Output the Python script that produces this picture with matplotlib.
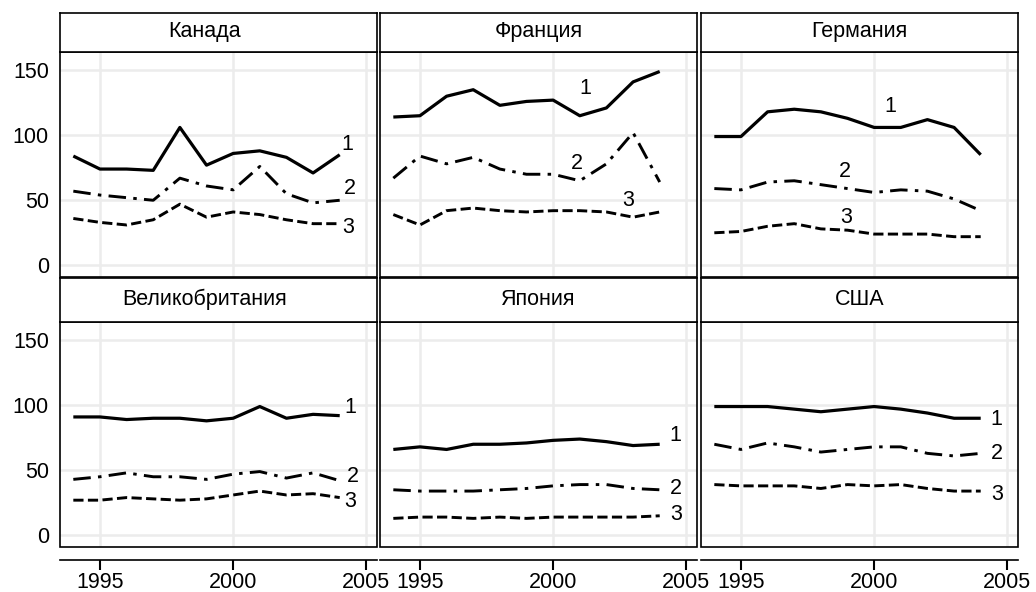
"""
Small-multiples line chart: three indicators by country, 1994-2004.
"""
import numpy as np
import matplotlib
matplotlib.use("Agg")
import matplotlib.pyplot as plt
from matplotlib.patches import Rectangle

plt.rcParams["font.family"] = ["Liberation Sans", "DejaVu Sans"]

years = list(range(1994, 2005))
countries = ["Канада", "Франция", "Германия", "Великобритания", "Япония", "США"]

canada_1 = [84, 74, 74, 73, 106, 77, 86, 88, 83, 71, 85]
canada_2 = [57, 54, 52, 50, 67, 61, 58, 76, 55, 48, 50]
canada_3 = [36, 33, 31, 35, 47, 37, 41, 39, 35, 32, 32]

france_1 = [114, 115, 130, 135, 123, 126, 127, 115, 121, 141, 149]
france_2 = [67, 84, 78, 83, 74, 70, 70, 65, 78, 102, 64]
france_3 = [39, 31, 42, 44, 42, 41, 42, 42, 41, 37, 41]

germany_1 = [99, 99, 118, 120, 118, 113, 106, 106, 112, 106, 85]
germany_2 = [59, 58, 64, 65, 62, 59, 56, 58, 57, 51, 42]
germany_3 = [25, 26, 30, 32, 28, 27, 24, 24, 24, 22, 22]

uk_1 = [91, 91, 89, 90, 90, 88, 90, 99, 90, 93, 92]
uk_2 = [43, 45, 48, 45, 45, 43, 47, 49, 44, 48, 42]
uk_3 = [27, 27, 29, 28, 27, 28, 31, 34, 31, 32, 29]

japan_1 = [66, 68, 66, 70, 70, 71, 73, 74, 72, 69, 70]
japan_2 = [35, 34, 34, 34, 35, 36, 38, 39, 39, 36, 35]
japan_3 = [13, 14, 14, 13, 14, 13, 14, 14, 14, 14, 15]

usa_1 = [99, 99, 99, 97, 95, 97, 99, 97, 94, 90, 90]
usa_2 = [70, 66, 71, 68, 64, 66, 68, 68, 63, 61, 63]
usa_3 = [39, 38, 38, 38, 36, 39, 38, 39, 36, 34, 34]

series_by_country = [
    (canada_1, canada_2, canada_3),
    (france_1, france_2, france_3),
    (germany_1, germany_2, germany_3),
    (uk_1, uk_2, uk_3),
    (japan_1, japan_2, japan_3),
    (usa_1, usa_2, usa_3),
]
series_names = ["1", "2", "3"]

# where the "1", "2", "3" labels sit (year, value)
label_pos = [
    [(2004.3, 93), (2004.4, 59), (2004.3, 29)],
    [(2001.2, 136), (2000.9, 78), (2002.8, 50)],
    [(2000.6, 122), (1998.9, 72), (1998.95, 37)],
    [(2004.4, 98), (2004.5, 45), (2004.4, 26)],
    [(2004.6, 77), (2004.6, 36), (2004.6, 16)],
    [(2004.6, 89), (2004.6, 63), (2004.6, 31)],
]

styles = [
    dict(ls="-", lw=2.3),
    dict(ls=(0, (6, 2.5, 1.2, 2.5)), lw=2.1),
    dict(ls=(0, (3.5, 1.5)), lw=2.1),
]

FS = 15.5
W, H = 1036, 592
fig = plt.figure(figsize=(W / 100, H / 100), dpi=100)

col_left = [60, 380, 701]
col_w = 317
row_top = [52, 322]       # top of plot area (px)
plot_h = 225
strip_h = [39, 44]
strip_text_x = [0.455, 0.5, 0.5]

for i, name in enumerate(countries):
    r, c = divmod(i, 3)
    x0 = col_left[c]
    y0 = row_top[r]
    ax = fig.add_axes([x0 / W, 1 - (y0 + plot_h) / H, col_w / W, plot_h / H])
    sax = fig.add_axes([x0 / W, 1 - y0 / H, col_w / W, strip_h[r] / H])

    # strip with country name
    sax.set_xticks([]); sax.set_yticks([])
    for sp in sax.spines.values():
        sp.set_linewidth(1.2)
    sax.text(strip_text_x[c], 0.52, name, ha="center", va="center", fontsize=FS,
             transform=sax.transAxes)

    for k, vals in enumerate(series_by_country[i]):
        ax.plot(years, vals, color="black", solid_capstyle="butt",
                dash_capstyle="butt", **styles[k])
        lx, ly = label_pos[i][k]
        ax.text(lx, ly, series_names[k], fontsize=FS, ha="center", va="center")

    ax.set_xlim(1993.5, 2005.4)
    ax.set_ylim(-9, 164)
    ax.set_yticks([0, 50, 100, 150])
    ax.set_xticks([1995, 2000, 2005])
    ax.grid(True, color="#ececec", lw=1.8)
    ax.set_axisbelow(True)
    ax.tick_params(axis="y", length=0, pad=8, labelsize=FS)
    if c != 0:
        ax.tick_params(axis="y", labelleft=False)

    for side in ["top", "left", "right"]:
        ax.spines[side].set_visible(False)
    ax.add_patch(Rectangle((0, 0), 1, 1, transform=ax.transAxes, fill=False,
                           ec="black", lw=1.2, clip_on=False, zorder=5))
    if r == 0:
        ax.spines["bottom"].set_visible(False)
        ax.tick_params(axis="x", length=0, labelbottom=False)
    else:
        ax.spines["bottom"].set_position(("outward", 9))
        ax.spines["bottom"].set_linewidth(1.2)
        ax.tick_params(axis="x", length=7, width=1.5, pad=2, labelsize=FS)

fig.savefig("out.png", dpi=100, facecolor="white")
